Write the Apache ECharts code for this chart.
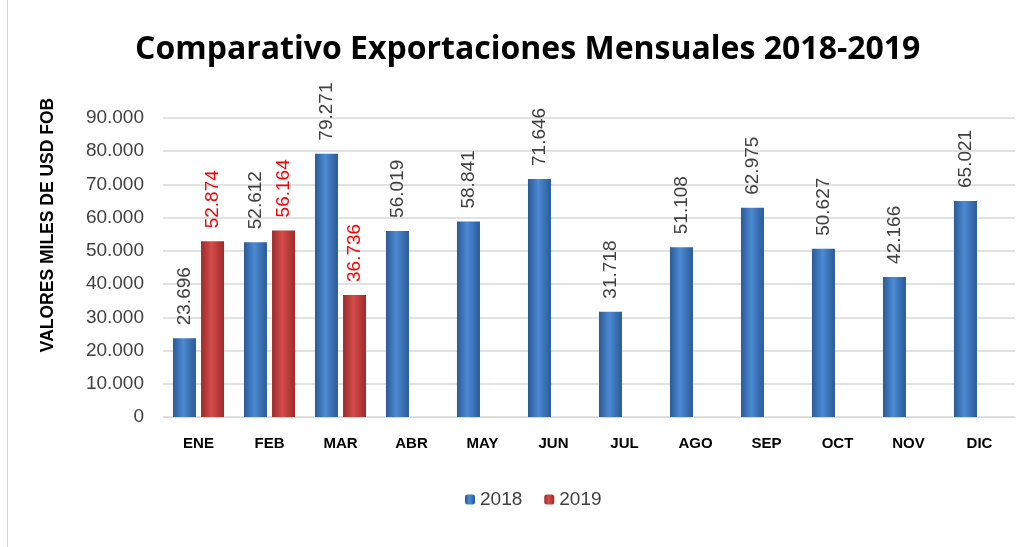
<!DOCTYPE html>
<html>
<head>
<meta charset="utf-8">
<script src="https://cdn.jsdelivr.net/npm/echarts@6/dist/echarts.min.js"></script>
<style>
  html, body { margin: 0; padding: 0; background: #fff; }
  #chart { width: 1029px; height: 547px; }
  #frame { position: absolute; left: 7px; top: 0; width: 1px; height: 547px; background: #d9d9d9; }
</style>
</head>
<body>
<div id="frame"></div>
<div id="chart"></div>
<script>
const months = ['ENE', 'FEB', 'MAR', 'ABR', 'MAY', 'JUN', 'JUL', 'AGO', 'SEP', 'OCT', 'NOV', 'DIC']
const values2018 = [23696, 52612, 79271, 56019, 58841, 71646, 31718, 51108, 62975, 50627, 42166, 65021]
const values2019 = [52874, 56164, 36736, null, null, null, null, null, null, null, null, null]

function fmt (v) {
  return String(v).replace(/\B(?=(\d{3})+(?!\d))/g, '.')
}

function barGrad (edge, mid) {
  return new echarts.graphic.LinearGradient(0, 0, 1, 0, [
    {offset: 0, color: edge},
    {offset: 0.45, color: mid},
    {offset: 1, color: edge}
  ])
}

let myChart = echarts.init(document.getElementById('chart'))
myChart.setOption({
  animation: false,
  title: {
    text: 'Comparativo Exportaciones Mensuales 2018-2019',
    left: 130,
    top: 29,
    textStyle: {
      fontFamily: 'Open Sans',
      fontWeight: 'bold',
      fontSize: 32,
      color: '#000'
    }
  },
  graphic: [
    {
      type: 'text',
      x: 48,
      y: 225,
      rotation: Math.PI / 2,
      style: {
        text: 'VALORES MILES DE USD FOB',
        fontFamily: 'Liberation Sans',
        fontWeight: 'bold',
        fontSize: 17.5,
        fill: '#000',
        align: 'center',
        verticalAlign: 'middle'
      }
    }
  ],
  grid: {
    left: 163,
    right: 14,
    top: 118,
    bottom: 130
  },
  legend: {
    data: ['2018', '2019'],
    bottom: 33,
    left: 460,
    itemWidth: 10,
    itemHeight: 10,
    itemGap: 22,
    textStyle: {
      fontFamily: 'Liberation Sans',
      fontSize: 19,
      color: '#404040'
    }
  },
  xAxis: {
    type: 'category',
    data: months,
    axisTick: {show: false},
    axisLine: {lineStyle: {color: '#d9d9d9', width: 1}},
    axisLabel: {
      margin: 19,
      fontFamily: 'Liberation Sans',
      fontWeight: 'bold',
      fontSize: 15,
      color: '#000'
    }
  },
  yAxis: {
    type: 'value',
    min: 0,
    max: 90000,
    interval: 10000,
    axisLine: {show: false},
    axisTick: {show: false},
    splitLine: {lineStyle: {color: '#d9d9d9', width: 1.5}},
    axisLabel: {
      margin: 19,
      fontFamily: 'Liberation Sans',
      fontSize: 19,
      color: '#404040',
      formatter: fmt
    }
  },
  series: [
    {
      name: '2018',
      type: 'bar',
      data: values2018,
      barWidth: 23,
      barGap: '22%',
      itemStyle: {color: barGrad('#2a5a97', '#4c8ad3')},
      label: {
        show: true,
        position: 'top',
        rotate: 90,
        align: 'left',
        verticalAlign: 'middle',
        distance: 13,
        fontFamily: 'Liberation Sans',
        fontSize: 19,
        color: '#404040',
        formatter: p => fmt(p.value)
      }
    },
    {
      name: '2019',
      type: 'bar',
      data: values2019,
      barWidth: 23,
      itemStyle: {color: barGrad('#9e2b2b', '#d34c4a')},
      label: {
        show: true,
        position: 'top',
        rotate: 90,
        align: 'left',
        verticalAlign: 'middle',
        distance: 13,
        fontFamily: 'Liberation Sans',
        fontSize: 19,
        color: '#ff0000',
        formatter: p => fmt(p.value)
      }
    }
  ]
})
</script>
</body>
</html>
